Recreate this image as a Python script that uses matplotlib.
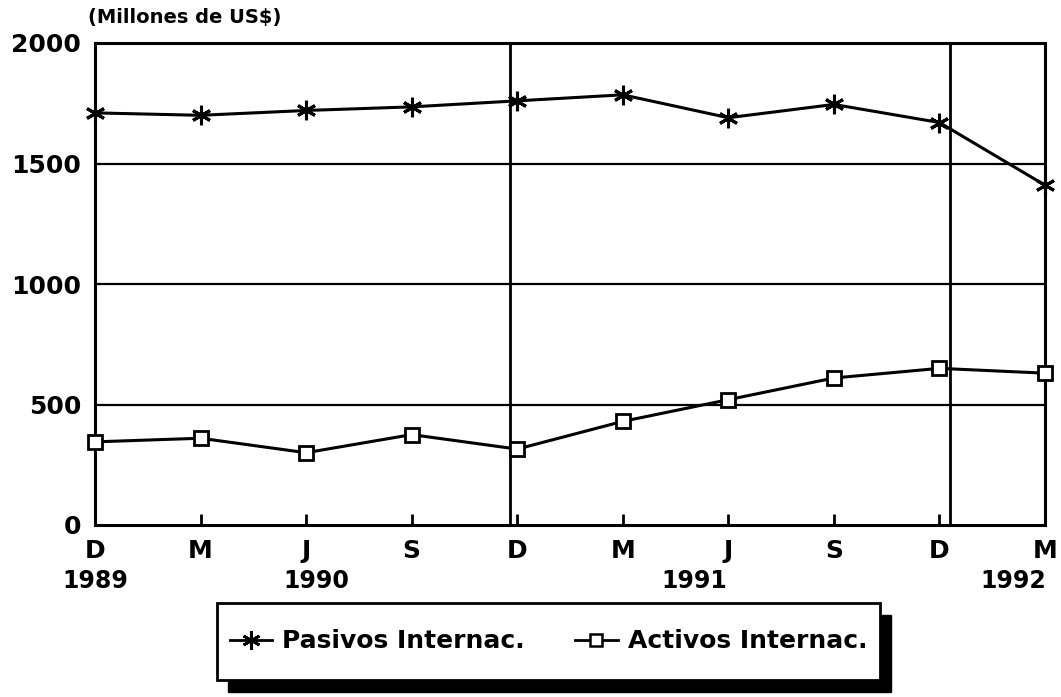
import matplotlib
matplotlib.use("Agg")
import matplotlib.pyplot as plt
from matplotlib.patches import Rectangle
from matplotlib.lines import Line2D

months = ["D", "M", "J", "S", "D", "M", "J", "S", "D", "M"]
years = ["1989", "1990", "1991", "1992"]
year_pos = [0, 2.1, 5.68, 8.7]
year_dividers = [3.93, 8.1]
pasivos = [1710, 1700, 1720, 1735, 1760, 1785, 1690, 1745, 1670, 1410]
activos = [345, 360, 300, 375, 315, 430, 520, 610, 650, 630]
yticks = [0, 500, 1000, 1500, 2000]

plt.rcParams['font.family'] = ['DejaVu Sans']
plt.rcParams['font.weight'] = 'bold'

fig = plt.figure(figsize=(10.61, 6.97), dpi=100)
ax = fig.add_axes([95/1061, 1-525/697, (1045-95)/1061, (525-43)/697])

x = list(range(len(months)))
ax.plot(x, pasivos, color='black', lw=2.2, marker=(6, 2, 0), ms=14, mew=2.2, clip_on=False, zorder=4)
ax.plot(x, activos, color='black', lw=2.2, marker='s', ms=10, mfc='white', mew=2.0, clip_on=False, zorder=4)

ax.set_xlim(0, len(months) - 1)
ax.set_ylim(0, 2000)
for v in yticks[1:-1]:
    ax.axhline(v, color='black', lw=1.6, zorder=1)
for d in year_dividers:
    ax.axvline(d, color='black', lw=2.0, zorder=1)

for s in ax.spines.values():
    s.set_linewidth(2.2)
ax.set_yticks(yticks)
ax.set_yticklabels([str(v) for v in yticks], fontsize=18, fontweight='bold')
ax.tick_params(axis='y', length=0, pad=10)
ax.set_xticks(x)
ax.set_xticklabels(months, fontsize=18, fontweight='bold')
ax.tick_params(axis='x', direction='in', length=8, width=2, pad=10)

for lab, p in zip(years, year_pos):
    ax.text(p, -0.092, lab, transform=ax.get_xaxis_transform(), ha='center', va='top',
            fontsize=17, fontweight='bold')

fig.text(88/1061, 1-18/697, "(Millones de US$)", ha='left', va='center', fontsize=14, fontweight='bold')

# legend box with shadow
bx0, bx1 = 217/1061, 880/1061
by0, by1 = 1-680/697, 1-603/697
fig.patches.append(Rectangle((bx0 + 11/1061, by0 - 12/697), bx1 - bx0, by1 - by0,
                             transform=fig.transFigure, facecolor='black', edgecolor='black', zorder=1))
fig.patches.append(Rectangle((bx0, by0), bx1 - bx0, by1 - by0, transform=fig.transFigure,
                             facecolor='white', edgecolor='black', lw=2.0, zorder=2))
handles = [Line2D([], [], color='black', lw=2, marker=(6, 2, 0), ms=13, mew=2),
           Line2D([], [], color='black', lw=2, marker='s', ms=8, mfc='white', mew=1.8)]
leg = fig.legend(handles, ["Pasivos Internac.", "Activos Internac."], loc='center',
                 bbox_to_anchor=((bx0 + bx1) / 2, (by0 + by1) / 2), ncol=2, frameon=False,
                 prop={'size': 18, 'weight': 'bold'}, handlelength=1.7, columnspacing=2.0,
                 handletextpad=0.4)
leg.set_zorder(3)

fig.savefig("out.png", dpi=100)
